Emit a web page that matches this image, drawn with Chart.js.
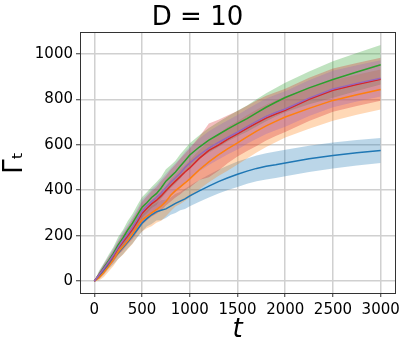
<!DOCTYPE html>
<html lang="en">
<head>
<meta charset="UTF-8" />
<title>D = 10</title>
<style>
  body { margin: 0; background: #fff; }
</style>
</head>
<body>
<canvas id="myChart" width="407" height="349"></canvas>
<script src="https://cdn.jsdelivr.net/npm/chart.js@4"></script>
<script>
const tSteps = [0, 50, 100, 150, 200, 250, 300, 350, 400, 450, 500, 550, 600, 650, 700, 750, 800, 850, 900, 950, 1000,
  1100, 1200, 1300, 1400, 1500, 1600, 1700, 1800, 1900, 2000, 2250, 2500, 2750, 3000];

// mean curves
const blueMean = [0, 22, 48, 72, 98, 124, 148, 172, 198, 226, 255, 275, 292, 305, 312, 318, 330, 342, 352, 362, 375,
  397, 418, 438, 455, 470, 484, 496, 505, 512, 520, 538, 553, 565, 575];
const orangeMean = [0, 15, 38, 65, 95, 128, 152, 178, 208, 240, 270, 285, 300, 315, 330, 350, 378, 398, 415, 432, 450,
  490, 525, 555, 583, 608, 635, 660, 683, 703, 722, 760, 795, 820, 843];
const greenMean = [0, 30, 60, 90, 122, 160, 190, 225, 255, 290, 325, 345, 368, 385, 410, 440, 460, 480, 505, 530, 555,
  590, 620, 645, 670, 693, 715, 740, 765, 787, 808, 850, 887, 920, 952];
const redMean = [0, 28, 55, 82, 110, 145, 172, 200, 228, 262, 298, 320, 340, 355, 375, 398, 420, 440, 460, 480, 498,
  540, 575, 598, 625, 648, 672, 695, 717, 735, 751, 800, 840, 865, 888];
const purpleMean = [0, 28, 56, 85, 115, 150, 180, 208, 238, 272, 308, 330, 350, 368, 388, 412, 435, 455, 475, 500, 520,
  555, 585, 610, 633, 655, 680, 703, 725, 742, 757, 805, 845, 870, 892];

// half-width of the shaded bands
const blueSpread = [0, 14, 20, 18, 24, 26, 30, 28, 32, 34, 36, 35, 40, 38, 44, 40, 38, 42, 40, 45, 45,
  48, 50, 52, 54, 56, 56, 57, 58, 58, 58, 58, 57, 56, 55];
const orangeSpread = [0, 12, 20, 22, 28, 30, 36, 38, 44, 45, 52, 52, 58, 58, 64, 65, 70, 70, 76, 78, 82,
  86, 90, 92, 96, 95, 95, 94, 93, 92, 90, 90, 89, 88, 88];
const greenSpread = [0, 16, 20, 26, 28, 34, 35, 40, 40, 44, 45, 46, 46, 50, 48, 52, 50, 50, 53, 52, 52,
  52, 54, 55, 55, 56, 58, 60, 62, 63, 65, 72, 80, 84, 87];
const redSpread = [0, 12, 18, 22, 26, 30, 36, 38, 44, 45, 50, 52, 56, 58, 64, 65, 70, 72, 78, 80, 86,
  95, 118, 112, 105, 100, 100, 100, 98, 96, 95, 95, 95, 95, 95];
const purpleSpread = [0, 14, 20, 24, 30, 32, 38, 40, 44, 45, 50, 50, 54, 55, 60, 60, 62, 64, 66, 68, 70,
  72, 74, 75, 75, 76, 76, 77, 78, 78, 78, 79, 80, 80, 80];

const xTicks = [0, 500, 1000, 1500, 2000, 2500, 3000];
const yTicks = [0, 200, 400, 600, 800, 1000];

const series = [
  { mean: blueMean, spread: blueSpread, color: "31,119,180" },
  { mean: orangeMean, spread: orangeSpread, color: "255,127,14" },
  { mean: greenMean, spread: greenSpread, color: "44,160,44" },
  { mean: redMean, spread: redSpread, color: "214,39,40" },
  { mean: purpleMean, spread: purpleSpread, color: "148,103,189" },
];

const datasets = [];
// bands: lower edge, then upper edge filled down to it
series.forEach(function (s, i) {
  datasets.push({
    data: tSteps.map((t, k) => ({ x: t, y: s.mean[k] - s.spread[k] })),
    borderWidth: 0,
    pointRadius: 0,
    fill: false,
    order: 20 - i,
  });
  datasets.push({
    data: tSteps.map((t, k) => ({ x: t, y: s.mean[k] + s.spread[k] })),
    borderWidth: 0,
    pointRadius: 0,
    fill: { target: datasets.length - 1 },
    backgroundColor: "rgba(" + s.color + ",0.3)",
    order: 20 - i,
  });
});
// mean lines on top
series.forEach(function (s, i) {
  datasets.push({
    data: tSteps.map((t, k) => ({ x: t, y: s.mean[k] })),
    borderColor: "rgb(" + s.color + ")",
    borderWidth: 1.5,
    pointRadius: 0,
    fill: false,
    order: 5 - i,
  });
});

const frame = {
  id: "frame",
  afterDatasetsDraw(chart) {
    const a = chart.chartArea;
    const ctx = chart.ctx;
    ctx.save();
    ctx.strokeStyle = "#333";
    ctx.lineWidth = 1;
    ctx.strokeRect(Math.round(a.left) + 0.5, Math.round(a.top) + 0.5,
      Math.round(a.right - a.left), Math.round(a.bottom - a.top));
    ctx.restore();
  },
};

const tickFont = { family: "DejaVu Sans", size: 15 };
const gridOpts = { color: "#d0d0d0", lineWidth: 1.5, tickLength: 4, tickColor: "#333", tickWidth: 1 };

new Chart(document.getElementById("myChart").getContext("2d"), {
  type: "line",
  data: { datasets: datasets },
  plugins: [frame],
  options: {
    responsive: false,
    animation: false,
    layout: { padding: { left: 0, right: 12, top: 0, bottom: 0 } },
    plugins: {
      legend: { display: false },
      tooltip: { enabled: false },
      title: {
        display: true,
        text: "D = 10",
        color: "#000",
        font: { family: "DejaVu Sans", size: 26, weight: "normal" },
        padding: { top: 3, bottom: -2 },
      },
    },
    scales: {
      x: {
        type: "linear",
        min: -150,
        max: 3150,
        afterBuildTicks: (s) => { s.ticks = xTicks.map((v) => ({ value: v })); },
        afterFit: (s) => { s.height = 56; },
        ticks: { font: tickFont, color: "#000", padding: 4, maxRotation: 0, autoSkip: false, callback: (v) => String(v) },
        grid: gridOpts,
        border: { display: false },
        title: {
          display: true,
          text: "t",
          color: "#000",
          font: { family: "DejaVu Sans", size: 26, style: "italic" },
          padding: { top: 0, bottom: 3 },
        },
      },
      y: {
        type: "linear",
        min: -52,
        max: 1095,
        afterBuildTicks: (s) => { s.ticks = yTicks.map((v) => ({ value: v })); },
        afterFit: (s) => { s.width = 80; },
        ticks: { font: tickFont, color: "#000", padding: 3, autoSkip: false, callback: (v) => String(v) },
        grid: gridOpts,
        border: { display: false },
        title: {
          display: true,
          text: "Γₜ",
          color: "#000",
          font: { family: "DejaVu Sans", size: 26 },
          padding: { top: 0, bottom: 0 },
        },
      },
    },
  },
});
</script>
</body>
</html>
